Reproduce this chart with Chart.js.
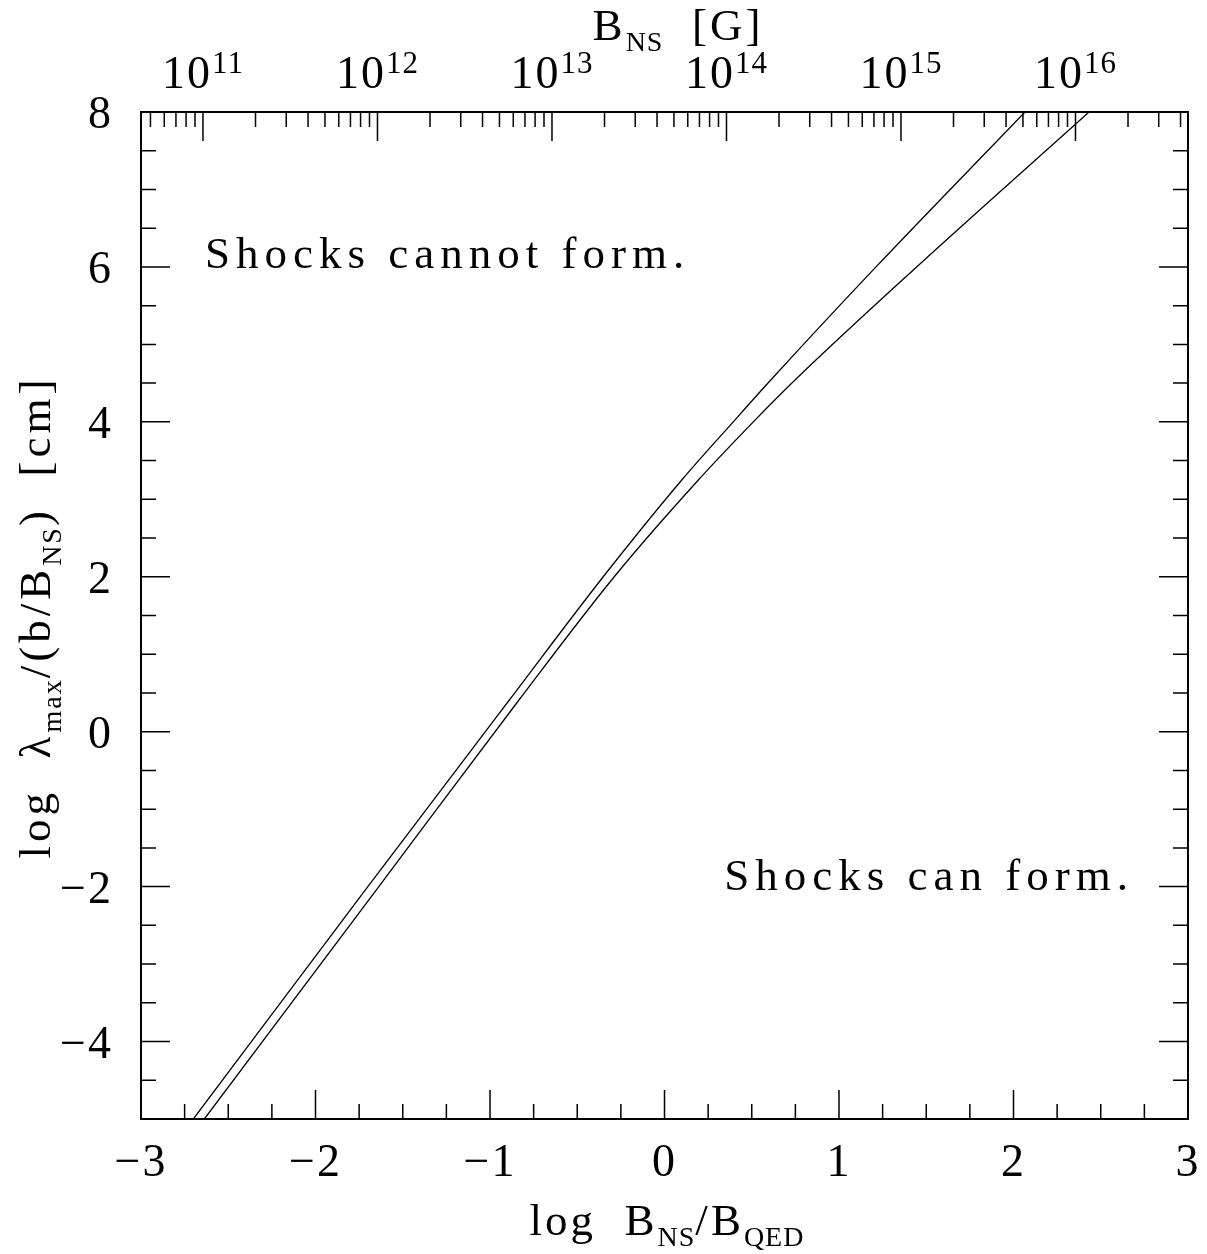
<!DOCTYPE html>
<html>
<head>
<meta charset="utf-8">
<script src="https://cdn.jsdelivr.net/npm/chart.js@4"></script>
<style>
  html,body{margin:0;padding:0;background:#fff;}
  canvas{display:block;}
</style>
</head>
<body>
<canvas id="chart" width="1207" height="1254"></canvas>
<script>
(function(){
  var X_MIN = -3, X_MAX = 3, Y_MIN = -5, Y_MAX = 8;
  var LOG_B_QED = 13.6448; // log10(4.414e13 G)

  var X_TICKS = [-3, -2, -1, 0, 1, 2, 3];
  var Y_TICKS = [-4, -2, 0, 2, 4, 6, 8];
  var TOP_DECADES = [11, 12, 13, 14, 15, 16];

  // two curves (log B_NS/B_QED, log lambda_max)
  var upperX = [-2.700, -1.700, -0.889, -0.351, 0.099, 0.394, 0.609, 1.212, 2.066];
  var upperY = [-5.000, -2.000,  0.409,  2.000, 3.249, 4.000, 4.540, 6.000, 8.000];
  var lowerX = [-2.637, -1.637, -0.834, -0.288, 0.194, 0.509, 0.748, 1.445, 2.433];
  var lowerY = [-5.000, -2.000,  0.409,  2.000, 3.249, 4.000, 4.540, 6.000, 8.000];

  var FONT = "'Liberation Serif','DejaVu Serif',serif";
  var INK = "#000";

  function pts(xs, ys){ return xs.map(function(x,i){ return {x:x, y:ys[i]}; }); }

  // draws text made of parts: {t, s:'sub'|'sup'}
  function drawRich(ctx, parts, x, y, size, align, spacing){
    function setFont(p){
      var sz = p.s === "sup" ? Math.round(size*0.68) : (p.s ? Math.round(size*0.62) : size);
      ctx.font = sz + "px " + FONT;
      ctx.letterSpacing = (p.s ? Math.max(1, spacing-2) : spacing) + "px";
    }
    var total = 0;
    parts.forEach(function(p){ setFont(p); total += ctx.measureText(p.t).width; });
    var cx = align === "center" ? x - total/2 : (align === "right" ? x - total : x);
    ctx.textAlign = "left";
    ctx.textBaseline = "alphabetic";
    parts.forEach(function(p){
      setFont(p);
      var dy = p.s === "sub" ? size*0.24 : (p.s === "sup" ? -size*0.33 : 0);
      ctx.fillText(p.t, cx, y + dy);
      cx += ctx.measureText(p.t).width;
    });
    ctx.letterSpacing = "0px";
  }

  function label(v){ return v < 0 ? "\u2212" + Math.abs(v) : String(v); }

  var framePlugin = {
    id: "frame",
    afterDatasetsDraw: function(chart){
      var ctx = chart.ctx, a = chart.chartArea;
      var sx = chart.scales.x, sy = chart.scales.y, st = chart.scales.xTop;
      var MAJ = 29, MIN = 15;
      ctx.save();
      ctx.strokeStyle = INK;
      ctx.fillStyle = INK;

      ctx.lineWidth = 1.5;
      ctx.beginPath();
      // bottom ticks
      for(var v = X_MIN; v <= X_MAX + 1e-9; v += 0.25){
        var px = sx.getPixelForValue(v);
        var len = Math.abs(v - Math.round(v)) < 1e-9 ? MAJ : MIN;
        ctx.moveTo(px, a.bottom); ctx.lineTo(px, a.bottom - len);
      }
      // left and right ticks
      for(var w = Y_MIN; w <= Y_MAX + 1e-9; w += 0.5){
        var py = sy.getPixelForValue(w);
        var l2 = Math.abs(w/2 - Math.round(w/2)) < 1e-9 ? MAJ : MIN;
        ctx.moveTo(a.left, py); ctx.lineTo(a.left + l2, py);
        ctx.moveTo(a.right, py); ctx.lineTo(a.right - l2, py);
      }
      // top log ticks in gauss
      for(var n = 10; n <= 16; n++){
        for(var k = 1; k <= 9; k++){
          var t = n + Math.log10(k);
          if(t < st.min || t > st.max) continue;
          var tx = st.getPixelForValue(t);
          ctx.moveTo(tx, a.top); ctx.lineTo(tx, a.top + (k === 1 ? MAJ : MIN));
        }
      }
      ctx.stroke();

      ctx.lineWidth = 2;
      ctx.strokeRect(a.left, a.top, a.right - a.left, a.bottom - a.top);

      // tick labels
      X_TICKS.forEach(function(v){
        drawRich(ctx, [{t: label(v)}], sx.getPixelForValue(v), a.bottom + 57, 46, "center", 2);
      });
      Y_TICKS.forEach(function(v){
        drawRich(ctx, [{t: label(v)}], a.left - 28, sy.getPixelForValue(v) + 16, 46, "right", 2);
      });
      TOP_DECADES.forEach(function(n){
        drawRich(ctx, [{t:"10"}, {t:String(n), s:"sup"}], st.getPixelForValue(n), a.top - 24, 46, "center", 2);
      });

      // axis titles
      drawRich(ctx, [{t:"B"}, {t:"NS", s:"sub"}, {t:"  [G]"}], 678, 40, 45, "center", 3);
      drawRich(ctx, [{t:"log  B"}, {t:"NS", s:"sub"}, {t:"/B"}, {t:"QED", s:"sub"}], 667, 1235, 45, "center", 3);
      ctx.save();
      ctx.translate(50, 617);
      ctx.rotate(-Math.PI/2);
      drawRich(ctx, [{t:"log  \u03bb"}, {t:"max", s:"sub"}, {t:"/(b/B"}, {t:"NS", s:"sub"}, {t:")  [cm]"}], 0, 0, 45, "center", 4);
      ctx.restore();

      // region notes
      drawRich(ctx, [{t:"Shocks cannot form."}], 205, 268, 45, "left", 6);
      drawRich(ctx, [{t:"Shocks can form."}], 1134, 890, 45, "right", 6);
      ctx.restore();
    }
  };

  new Chart(document.getElementById("chart"), {
    type: "line",
    data: {
      datasets: [
        { data: pts(upperX, upperY), borderColor: INK, borderWidth: 1.3, pointRadius: 0, cubicInterpolationMode: "monotone", fill: false },
        { data: pts(lowerX, lowerY), borderColor: INK, borderWidth: 1.3, pointRadius: 0, cubicInterpolationMode: "monotone", fill: false }
      ]
    },
    options: {
      responsive: false,
      animation: false,
      events: [],
      layout: { padding: { left: 141, top: 112, right: 19, bottom: 135 } },
      plugins: { legend: { display: false }, tooltip: { enabled: false } },
      scales: {
        x: { type: "linear", min: X_MIN, max: X_MAX, display: false },
        y: { type: "linear", min: Y_MIN, max: Y_MAX, display: false },
        xTop: { type: "linear", position: "top", min: LOG_B_QED - 3, max: LOG_B_QED + 3, display: false }
      }
    },
    plugins: [framePlugin]
  });
})();
</script>
</body>
</html>
